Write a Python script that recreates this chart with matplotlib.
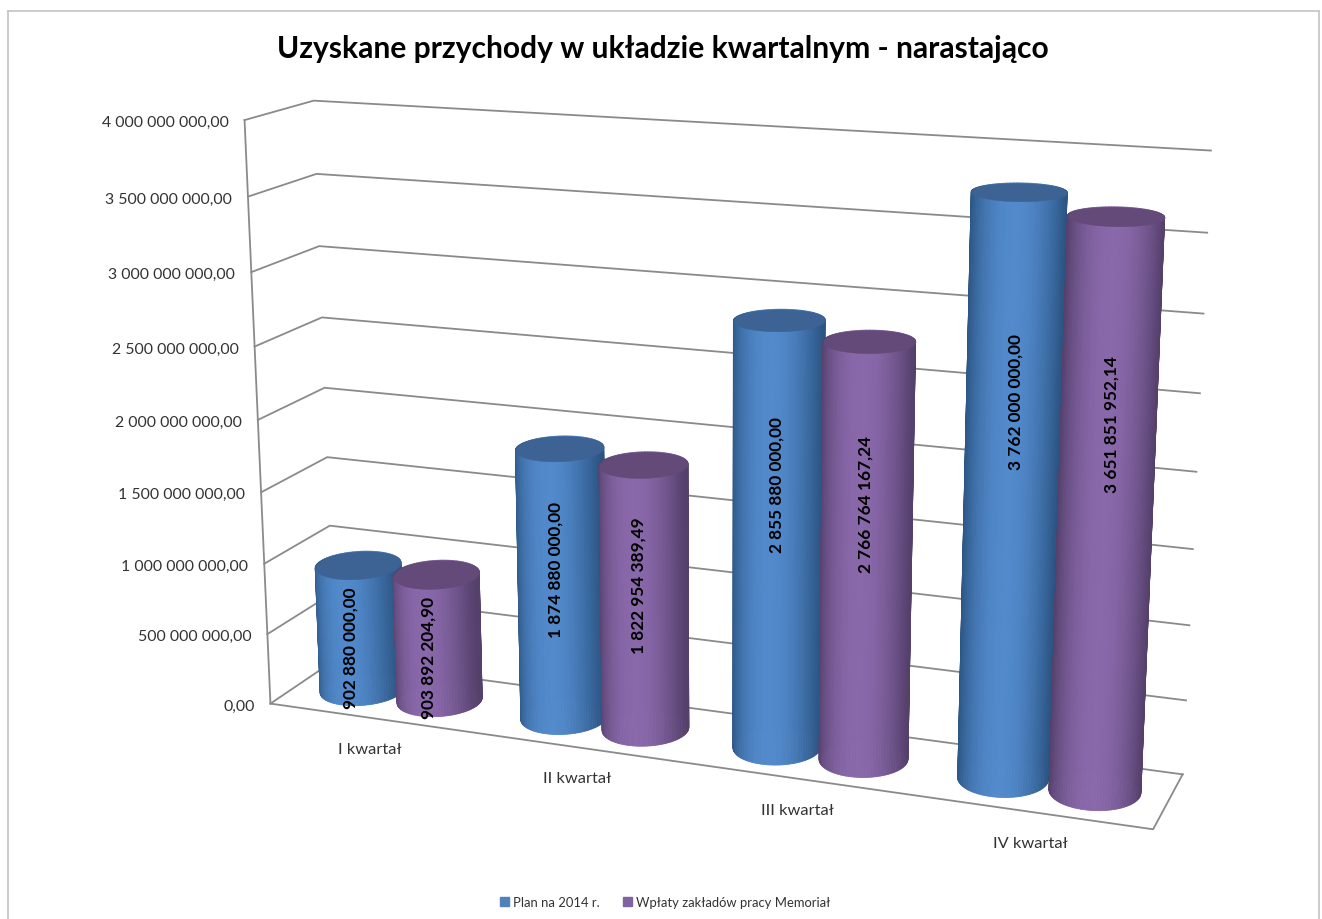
import numpy as np
import matplotlib
matplotlib.use('Agg')
import matplotlib.pyplot as plt
from matplotlib.lines import Line2D
from matplotlib.patches import Patch
from mpl_toolkits.mplot3d.art3d import Poly3DCollection

plt.rcParams['font.family'] = ['Lato', 'DejaVu Sans']

# Chart data
title = 'Uzyskane przychody w układzie kwartalnym - narastająco'
categories = ['I kwartał', 'II kwartał', 'III kwartał', 'IV kwartał']
plan = [902880000.00, 1874880000.00, 2855880000.00, 3762000000.00]
wplaty = [903892204.90, 1822954389.49, 2766764167.24, 3651851952.14]
series_names = ['Plan na 2014 r.', 'Wpłaty zakładów pracy Memoriał']
y_ticks = [0, 500000000, 1000000000, 1500000000, 2000000000, 2500000000,
           3000000000, 3500000000, 4000000000]

W, H = 1322, 920
UNIT = 1e9

# Camera calibration: box corners (category, depth, value/1e9) and where they sit in the picture
box_points = [(0, 0, 0), (0, 0, 2), (0, 0, 4), (0, 1, 0), (0, 1, 2), (0, 1, 4),
              (4, 1, 0), (4, 1, 2), (4, 1, 4), (4, 0, 0)]
box_pixels = [(270, 704), (258, 421), (245, 121), (335, 661), (325, 390), (313, 101),
              (1182, 775), (1198, 472), (1210, 152), (1153, 831)]

rows = []
for (X, Y, Z), (u, v) in zip(box_points, box_pixels):
    u, v = u / 1000, v / 1000
    rows.append([X, Y, Z, 1, 0, 0, 0, 0, -u * X, -u * Y, -u * Z, -u])
    rows.append([0, 0, 0, 0, X, Y, Z, 1, -v * X, -v * Y, -v * Z, -v])
P = np.linalg.svd(np.array(rows))[2][-1].reshape(3, 4)
if P[2, 3] < 0:
    P = -P
P[:2] *= 1000


def to_pixel(x, y, z):
    u, v, w = P @ np.array([x, y, z, 1.0])
    return u / w, v / w


fig = plt.figure(figsize=(W / 100, H / 100), dpi=100, facecolor='white')
ax = fig.add_axes([0, 0, 1, 1], projection='3d')
ax.set_axis_off()
ax.computed_zorder = False
# ortho only switches off the line clipping of mplot3d, the matrix below is the real camera
ax.set_proj_type('ortho')
ax.apply_aspect = lambda position=None: None


def fitted_proj():
    # picture pixels -> display -> the 2D coordinates of the 3D axes
    flip = np.array([[1, 0, 0], [0, -1, H], [0, 0, 1.0]])
    T = ax.transData.inverted().get_matrix() @ flip @ P
    return np.vstack([T[0], T[1], [0, 1, 0, 0], T[2]])


ax.get_proj = fitted_proj


def put_text(px, py, s, **kw):
    fig.text(px / W, 1 - py / H, s, **kw)


def pl_number(v):
    return f'{v:,.2f}'.replace(',', ' ').replace('.', ',')


# Frame round the chart
for xs, ys in [((8, 8), (920, 12)), ((8, 1319), (12, 12)), ((1319, 1319), (12, 920))]:
    fig.add_artist(Line2D([x / W for x in xs], [1 - y / H for y in ys],
                          color='#c4c4c4', lw=1.2, transform=fig.transFigure))

# Walls and floor
n_cat = len(categories)
grid = dict(color='#8a8a8a', lw=1.3, zorder=1)
for t in y_ticks:
    z = t / UNIT
    ax.plot([0, 0, n_cat], [0, 1, 1], [z, z, z], **grid)
    px, py = to_pixel(0, 0, z)
    put_text(px - 16, py + 2, pl_number(t), ha='right', va='center', fontsize=11.4, color='#333333')
ax.plot([0, 0], [0, 0], [0, y_ticks[-1] / UNIT], **grid)
ax.plot([0, n_cat, n_cat], [0, 0, 1], [0, 0, 0], **grid)

# Cylinders
bar_radius_x = 0.187
bar_radius_y = 0.34
bar_offset = 0.195
styles = [dict(dark=(0.17, 0.33, 0.51), light=(0.32, 0.54, 0.80), cap=(0.24, 0.39, 0.58), off=-bar_offset),
          dict(dark=(0.33, 0.25, 0.42), light=(0.54, 0.41, 0.67), cap=(0.39, 0.29, 0.47), off=bar_offset)]
theta = np.linspace(0, 2 * np.pi, 97)

for i in range(n_cat):
    for j, values in enumerate([plan, wplaty]):
        st = styles[j]
        cx = i + 0.5 + st['off']
        top = values[i] / UNIT
        xs = cx + bar_radius_x * np.cos(theta)
        ys = 0.5 + bar_radius_y * np.sin(theta)
        X = np.array([xs, xs])
        Y = np.array([ys, ys])
        Z = np.array([np.zeros_like(theta), np.full_like(theta, top)])
        # brightest a little right of the middle of the front, dark at both edges
        light = np.clip(np.abs(np.sin(theta - 0.15)), 0, 1) ** 2
        cols = np.outer(1 - light, st['dark']) + np.outer(light, st['light'])
        face = np.ones((2, len(theta), 4))
        face[0, :, :3] = cols
        face[1, :, :3] = cols
        z0 = 2 + 2 * i + j
        ax.plot_surface(X, Y, Z, facecolors=face, rstride=1, cstride=1, shade=False,
                        linewidth=0.6, zorder=z0)
        cap = Poly3DCollection([list(zip(xs, ys, Z[1]))], facecolor=st['cap'],
                               edgecolor=st['cap'], linewidth=0.3, zorder=z0 + 0.5)
        ax.add_collection3d(cap, autolim=False)
        px, py = to_pixel(cx, 0.35, 0.75 * top - 0.32)
        put_text(px + 3 * i - 1, py, pl_number(values[i]), rotation=90, ha='center', va='center',
                 fontsize=12.4, fontweight='bold', color='black', zorder=5)

# Category labels
for i, name in enumerate(categories):
    px, py = to_pixel(i + 0.5, 0, 0)
    put_text(px, py + 31, name, ha='center', va='center', fontsize=11.8, color='#333333')

put_text(663, 49, title, ha='center', va='center', fontsize=21.6, fontweight='bold', color='black')

handles = [Patch(color='#4f81bd'), Patch(color='#8064a2')]
fig.legend(handles, series_names, loc='center', bbox_to_anchor=(665 / W, 1 - 903 / H), ncol=2,
           frameon=False, fontsize=9.4, handlelength=0.7, handleheight=0.7, handletextpad=0.3,
           columnspacing=1.8, labelcolor='#333333')

fig.savefig('out.png', dpi=100, facecolor='white')
